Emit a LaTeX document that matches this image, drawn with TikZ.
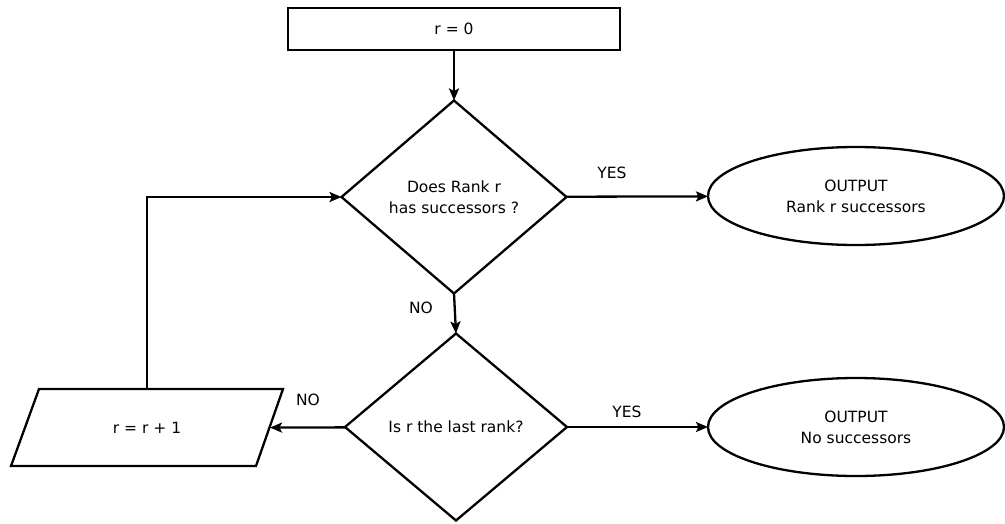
\documentclass[tikz,border=0pt]{standalone}
\usepackage{fontspec}
\setmainfont{DejaVu Sans}
\usetikzlibrary{shapes.geometric,arrows.meta}
\begin{document}
\begin{tikzpicture}[x=1pt,y=-1pt,
  every node/.style={font=\fontsize{15.5}{21}\selectfont, align=center, inner sep=0pt, outer sep=0pt},
  shape base/.style={draw, line width=2.3pt, fill=white},
  procbox/.style={shape base, rectangle, minimum width=332pt, minimum height=42pt},
  decision/.style={shape base, diamond},
  outbox/.style={shape base, ellipse, minimum width=296pt, minimum height=98pt},
  arr/.style={line width=2.3pt, -{Stealth[length=12pt,width=10pt,inset=2.5pt]}},
  lbl/.style={}
]
\useasboundingbox (0,0) rectangle (1005,523);

\node[procbox] (init) at (454,29) {r = 0};
\node[decision, minimum width=225pt, minimum height=193pt] (d1) at (454,197) {Does Rank r\\has successors ?};
\node[outbox] (o1) at (856,196) {OUTPUT\\Rank r successors};
\node[decision, minimum width=222pt, minimum height=187pt] (d2) at (456,427) {Is r the last rank?};
\node[outbox] (o2) at (856,427) {OUTPUT\\No successors};

% parallelogram for the increment step: outline drawn around the text node
\node[minimum width=246pt, minimum height=77pt] (inc) at (147,428) {};
\draw[shape base, shift={(inc.center)}] (-108,-39) -- (136,-39) -- (109,38) -- (-136,38) -- cycle;
\node at (inc.center) {r = r + 1};

\draw[arr] (init) -- (d1);
\draw[arr] (d1) -- (o1);
\draw[arr] (d1.south) -- (d2.north);
\draw[arr] (d2) -- (o2);
\draw[arr] (d2) -- (inc);
\draw[arr] (inc.north) |- (d1.west);

\node[lbl] (y1) at (612,173) {YES};
\node[lbl] (n1) at (421,308) {NO};
\node[lbl] (y2) at (627,412) {YES};
\node[lbl] (n2) at (308,400) {NO};
\end{tikzpicture}
\end{document}
